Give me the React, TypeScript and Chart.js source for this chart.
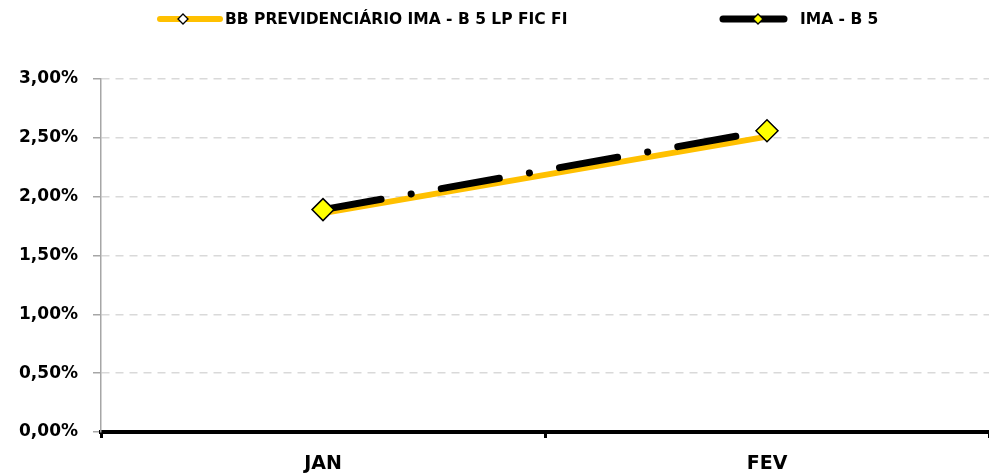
import React, { useEffect, useRef } from 'react';
import { Chart, registerables } from 'chart.js';

Chart.register(...registerables);

const categories = ['JAN', 'FEV'];
const fundLabel = 'BB PREVIDENCIÁRIO IMA - B 5 LP FIC FI';
const benchLabel = 'IMA - B 5';
const fundValues = [1.86, 2.51];
const benchValues = [1.89, 2.56];
const yMin = 0;
const yMax = 3;
const yStep = 0.5;

const FONT = '"DejaVu Sans", sans-serif';

const legendPlugin = {
  id: 'excelLegend',
  afterDraw(chart: any) {
    const ctx: CanvasRenderingContext2D = chart.ctx;
    const specs = [
      { x0: 160, x1: 220, dx: 183, tx: 225, y: 19, lw: 6, markerFill: '#FFFFFF' },
      { x0: 723, x1: 784, dx: 758, tx: 800, y: 19, lw: 7, markerFill: '#FFFF00' },
    ];
    chart.data.datasets.forEach((ds: any, i: number) => {
      const s = specs[i];
      if (!s) return;
      ctx.save();
      ctx.strokeStyle = ds.borderColor;
      ctx.lineWidth = s.lw;
      ctx.lineCap = 'round';
      ctx.beginPath();
      ctx.moveTo(s.x0, s.y);
      ctx.lineTo(s.x1, s.y);
      ctx.stroke();
      const r = 5;
      ctx.beginPath();
      ctx.moveTo(s.dx, s.y - r);
      ctx.lineTo(s.dx + r, s.y);
      ctx.lineTo(s.dx, s.y + r);
      ctx.lineTo(s.dx - r, s.y);
      ctx.closePath();
      ctx.fillStyle = s.markerFill;
      ctx.fill();
      ctx.lineWidth = 1.3;
      ctx.strokeStyle = '#000';
      ctx.stroke();
      ctx.fillStyle = '#000';
      ctx.font = 'bold 15.5px ' + FONT;
      ctx.textBaseline = 'middle';
      ctx.textAlign = 'left';
      ctx.fillText(ds.label, s.tx, s.y + 1);
      ctx.restore();
    });
  },
};

export default function App() {
  const ref = useRef<HTMLCanvasElement | null>(null);

  useEffect(() => {
    document.body.style.margin = '0';
    const canvas = ref.current;
    if (!canvas) return;
    const chart = new Chart(canvas, {
      type: 'line',
      data: {
        labels: categories,
        datasets: [
          {
            label: fundLabel,
            data: fundValues,
            borderColor: '#FFC000',
            backgroundColor: '#FFC000',
            borderWidth: 6,
            pointRadius: 0,
            tension: 0,
            order: 1,
          },
          {
            label: benchLabel,
            data: benchValues,
            borderColor: '#000000',
            backgroundColor: '#FFFF00',
            borderWidth: 7,
            borderDash: [59, 30.5, 0.1, 30.5],
            borderCapStyle: 'round',
            pointStyle: 'rectRot',
            pointRadius: 11,
            pointBackgroundColor: '#FFFF00',
            pointBorderColor: '#000000',
            pointBorderWidth: 1.5,
            tension: 0,
            order: 0,
          },
        ],
      },
      options: {
        animation: false,
        responsive: false,
        layout: { autoPadding: false, padding: { top: 79, left: 0, right: 0, bottom: 0 } },
        plugins: {
          legend: { display: false },
          tooltip: { enabled: false },
        },
        scales: {
          x: {
            offset: true,
            grid: {
              display: true,
              drawOnChartArea: false,
              drawTicks: true,
              tickLength: 6,
              tickColor: '#000',
              tickWidth: 3,
              offset: true,
            },
            border: { display: true, color: '#000', width: 4 },
            ticks: {
              color: '#000',
              font: { family: FONT, size: 19, weight: 'bold' },
              padding: 15,
            },
            afterFit(scale: any) {
              scale.height = 44;
              scale.paddingLeft = 0;
              scale.paddingRight = 0;
            },
          },
          y: {
            min: yMin,
            max: yMax,
            ticks: {
              stepSize: yStep,
              color: '#000',
              font: { family: FONT, size: 17, weight: 'bold' },
              padding: 15,
              callback: (v: any) => Number(v).toFixed(2).replace('.', ',') + '%',
            },
            grid: {
              color: '#D9D9D9',
              lineWidth: 1.5,
              drawTicks: true,
              tickLength: 8,
              tickColor: '#A6A6A6',
              tickWidth: 1.5,
            },
            border: { display: true, color: '#A6A6A6', width: 1.5, dash: [8, 6] },
            afterFit(scale: any) {
              scale.width = 101;
              scale.paddingTop = 0;
              scale.paddingBottom = 0;
            },
          },
        },
      },
      plugins: [legendPlugin],
    });
    return () => chart.destroy();
  }, []);

  return (
    <div style={{ width: 989, height: 476, background: '#fff' }}>
      <canvas ref={ref} width={989} height={476} />
    </div>
  );
}
